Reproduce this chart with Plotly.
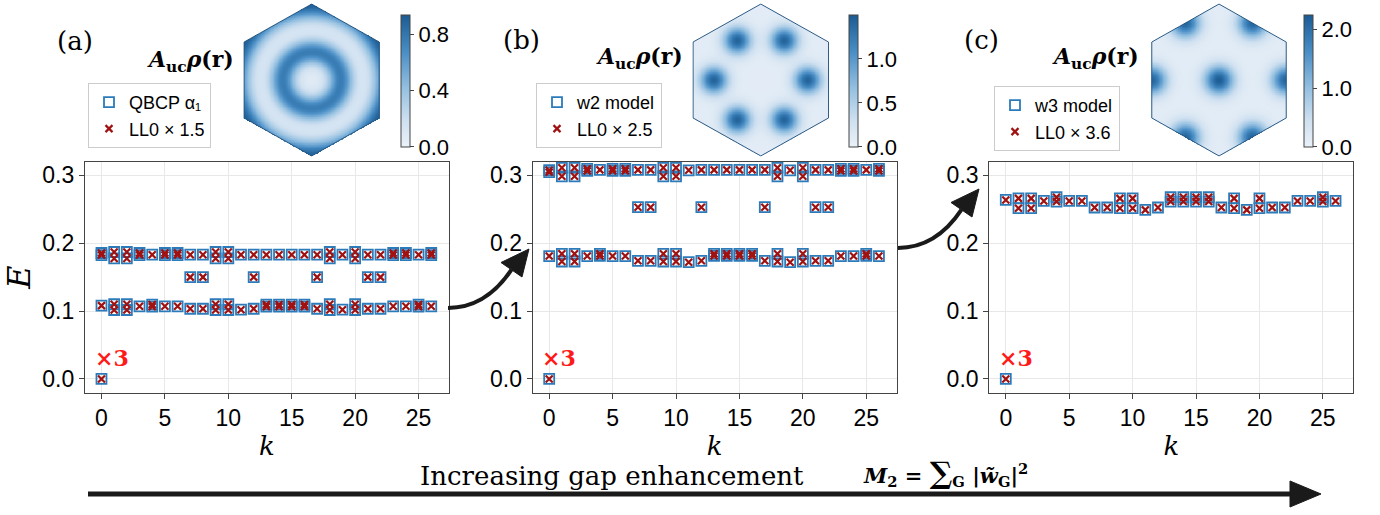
import numpy as np
import plotly.graph_objects as go

W, H = 1380, 515
S3 = np.sqrt(3.0)

# ---------------- spectra: many-body energies E at each momentum index k ----------------
K = list(range(27))

# (a) QBCP alpha_1 vs LL0 x 1.5
A_GROUND_K = [0]
A_GROUND_E = [0.0]
A_LOW_1 = [0.108, 0.110, 0.110, 0.107, 0.1095, 0.107, 0.107, 0.1034, 0.1034, 0.110,
           0.110, 0.102, 0.1034, 0.1095, 0.1095, 0.1095, 0.1095, 0.1034, 0.110, 0.102,
           0.110, 0.1034, 0.1034, 0.107, 0.107, 0.1095, 0.107]
A_LOW_2 = [None, 0.1015, 0.1015, None, 0.1065, None, None, None, None, 0.1015,
           0.1015, None, None, 0.1065, 0.1065, 0.1065, 0.1065, None, 0.1015, None,
           0.1015, None, None, None, None, 0.1065, None]
A_MID_K = [7, 8, 12, 17, 21, 22]
A_MID_E = [0.150, 0.150, 0.150, 0.150, 0.150, 0.150]
A_UP_1 = [0.1855, 0.187, 0.187, 0.1855, 0.183, 0.1855, 0.1855, 0.183, 0.183, 0.187,
          0.187, 0.183, 0.183, 0.183, 0.183, 0.183, 0.183, 0.183, 0.187, 0.183,
          0.187, 0.183, 0.183, 0.1855, 0.1855, 0.183, 0.1855]
A_UP_2 = [0.1825, 0.1775, 0.1775, 0.1825, None, 0.1825, 0.1825, None, None, 0.1775,
          0.1775, None, None, None, None, None, None, None, 0.1775, None,
          0.1775, None, None, 0.1825, 0.1825, None, 0.1825]

# (b) w2 model vs LL0 x 2.5
B_GROUND_K = [0]
B_GROUND_E = [0.0]
B_LOW_1 = [0.181, 0.1843, 0.1843, 0.181, 0.1843, 0.181, 0.181, 0.174, 0.174, 0.1843,
           0.1843, 0.172, 0.174, 0.1843, 0.1843, 0.1843, 0.1843, 0.174, 0.1843, 0.172,
           0.1843, 0.174, 0.174, 0.181, 0.181, 0.1843, 0.181]
B_LOW_2 = [None, 0.173, 0.173, None, 0.1813, None, None, None, None, 0.173,
           0.173, None, None, 0.1813, 0.1813, 0.1813, 0.1813, None, 0.173, None,
           0.173, None, None, None, None, 0.1813, None]
B_MID_K = [7, 8, 12, 17, 21, 22]
B_MID_E = [0.253, 0.253, 0.253, 0.253, 0.253, 0.253]
B_UP_1 = [0.3075, 0.311, 0.311, 0.3095, 0.308, 0.3095, 0.3095, 0.308, 0.308, 0.311,
          0.311, 0.3073, 0.308, 0.308, 0.308, 0.308, 0.308, 0.308, 0.311, 0.3073,
          0.311, 0.308, 0.308, 0.3095, 0.3095, 0.308, 0.3095]
B_UP_2 = [0.3045, 0.2985, 0.2985, 0.3065, None, 0.3065, 0.3065, None, None, 0.2985,
          0.2985, None, None, None, None, None, None, None, 0.2985, None,
          0.2985, None, None, 0.3065, 0.3065, None, 0.3065]

# (c) w3 model vs LL0 x 3.6
C_GROUND_K = [0]
C_GROUND_E = [0.0]
C_BAND_1 = [0.2637, 0.266, 0.266, 0.2622, 0.2676, 0.2622, 0.2622, 0.2525, 0.2525, 0.266,
            0.266, 0.249, 0.2525, 0.2676, 0.2676, 0.2676, 0.2676, 0.2525, 0.266, 0.249,
            0.266, 0.2525, 0.2525, 0.2622, 0.2622, 0.2676, 0.2622]
C_BAND_2 = [None, 0.2515, 0.2515, None, 0.2613, None, None, None, None, 0.2515,
            0.2515, None, None, 0.2613, 0.2613, 0.2613, 0.2613, None, 0.2515, None,
            0.2515, None, None, None, None, 0.2613, None]

X_TICKS = [0, 5, 10, 15, 20, 25]
Y_TICKS = [0.0, 0.1, 0.2, 0.3]

MODEL_NAMES = ["QBCP α₁", "w2 model", "w3 model"]
LL0_NAMES = ["LL0 × 1.5", "LL0 × 2.5", "LL0 × 3.6"]
PANEL_TAGS = ["(a)", "(b)", "(c)"]

# ---------------- unit-cell densities A_uc rho(r) on the hexagonal cell ----------------
# (a) ring around the cell centre plus an outer band peaking at the corners
A_RHO_BASE = 0.07
A_RING = [0.37, 0.115, 0.70]     # radius, width, amplitude
A_OUTER = [1.00, 0.14, 0.85]     # radius, width, amplitude
A_CMAX = 0.94
A_CBAR_TICKS = [0.0, 0.4, 0.8]
# (b) six lobes pointing at the edge midpoints
B_RHO_BASE = 0.08
B_LOBE_ANGLES = [0, 60, 120, 180, 240, 300]
B_LOBE = [0.60, 0.125, 1.35]     # radius, width, amplitude
B_CMAX = 1.5
B_CBAR_TICKS = [0.0, 0.5, 1.0]
# (c) central peak plus peaks sitting on the edge midpoints
C_RHO_BASE = 0.12
C_CENTER = [0.135, 2.10]         # width, amplitude
C_EDGE_ANGLES = [0, 60, 120, 180, 240, 300]
C_EDGE = [S3 / 2, 0.135, 2.0]    # radius, width, amplitude
C_CMAX = 2.25
C_CBAR_TICKS = [0.0, 1.0, 2.0]

BLUES = [[0.0, "#eaf1f8"], [0.2, "#cfe0f0"], [0.45, "#93bfe0"],
         [0.72, "#4a8ec6"], [1.0, "#1b5b93"]]

SANS = "Liberation Sans, Arial, sans-serif"
SERIF = "DejaVu Serif, serif"
SQ_BLUE = "#2b7bbb"
X_RED = "#a01212"


def px(x):
    return x / W


def py(y):
    return 1 - y / H


def hex_grid(n=241):
    xs = np.linspace(-S3 / 2, S3 / 2, n)
    ys = np.linspace(-1.0, 1.0, n)
    X, Y = np.meshgrid(xs, ys)
    inside = (0.5 * np.abs(X) + S3 / 2 * np.abs(Y)) <= S3 / 2 + 1e-9
    return xs, ys, X, Y, inside


def gauss(d2, w):
    return np.exp(-d2 / (2 * w * w))


def density_a(X, Y):
    r = np.hypot(X, Y)
    return (A_RHO_BASE + A_RING[2] * gauss((r - A_RING[0]) ** 2, A_RING[1])
            + A_OUTER[2] * gauss((r - A_OUTER[0]) ** 2, A_OUTER[1]))


def lobes(X, Y, angles, rad, w, amp):
    out = np.zeros_like(X)
    for a in angles:
        cx, cy = rad * np.cos(np.radians(a)), rad * np.sin(np.radians(a))
        out += amp * gauss((X - cx) ** 2 + (Y - cy) ** 2, w)
    return out


def density_b(X, Y):
    return B_RHO_BASE + lobes(X, Y, B_LOBE_ANGLES, *B_LOBE)


def density_c(X, Y):
    return (C_RHO_BASE + C_CENTER[1] * gauss(X ** 2 + Y ** 2, C_CENTER[0])
            + lobes(X, Y, C_EDGE_ANGLES, *C_EDGE))


def collect(*bands):
    ks, es = [], []
    for band in bands:
        for k, e in zip(K, band):
            if e is not None:
                ks.append(k)
                es.append(e)
    return ks, es


spectra = [
    (A_GROUND_K, A_GROUND_E, A_MID_K, A_MID_E, [A_LOW_1, A_LOW_2, A_UP_1, A_UP_2]),
    (B_GROUND_K, B_GROUND_E, B_MID_K, B_MID_E, [B_LOW_1, B_LOW_2, B_UP_1, B_UP_2]),
    (C_GROUND_K, C_GROUND_E, [], [], [C_BAND_1, C_BAND_2]),
]

# pixel layout of each panel: main plot box, hexagon inset, colorbar, legend, labels
MAIN_X = [(85, 449), (532.7, 896.7), (989.3, 1353.3)]
MAIN_Y = (161.7, 392.5)
HEX_X = [(243.3, 380.0), (692.3, 829.3), (1151.0, 1287.0)]
HEX_Y = (3.3, 156.7)
CBAR_X = [400.7, 849.3, 1304.3]
LEG_POS = [(88, 83), (536, 83), (994, 86)]
TAG_POS = [(75, 41), (521, 40), (981, 40)]
RHO_LABEL_POS = [(190, 61), (639, 58), (1095, 58)]

densities = [density_a, density_b, density_c]
cmaxes = [A_CMAX, B_CMAX, C_CMAX]
cticks = [A_CBAR_TICKS, B_CBAR_TICKS, C_CBAR_TICKS]

fig = go.Figure()
xs, ys, XG, YG, inside = hex_grid()
hex_ang = np.radians([90, 30, -30, -90, -150, 150, 90])
hex_vx = np.cos(hex_ang)
hex_vy = np.sin(hex_ang)

annotations = []


def note(x, y, text, font, xref="paper", yref="paper", xanchor="center"):
    annotations.append(dict(x=x, y=y, xref=xref, yref=yref, text=text,
                            showarrow=False, xanchor=xanchor, yanchor="middle",
                            font=font))


for i in range(3):
    n = i + 1
    xa = "x" if n == 1 else f"x{n}"
    ya = "y" if n == 1 else f"y{n}"
    leg = "legend" if n == 1 else f"legend{n}"
    gk, ge, mk, me, bands = spectra[i]
    bk, be = collect(*bands)
    ks = list(gk) + list(mk) + bk
    es = list(ge) + list(me) + be

    fig.add_trace(go.Scatter(
        x=ks, y=es, mode="markers", name=MODEL_NAMES[i], legend=leg,
        xaxis=xa, yaxis=ya,
        marker=dict(symbol="square-open", size=10, color=SQ_BLUE,
                    line=dict(width=1.8, color=SQ_BLUE))))
    # rescaled LL0 levels coincide with the model levels
    fig.add_trace(go.Scatter(
        x=ks, y=es, mode="markers", name=LL0_NAMES[i], legend=leg,
        xaxis=xa, yaxis=ya,
        marker=dict(symbol="x-thin", size=7, color=X_RED,
                    line=dict(width=2.2, color=X_RED))))

    # density inset
    hx = f"x{n + 3}"
    hy = f"y{n + 3}"
    z = densities[i](XG, YG)
    z = np.where(inside, z, np.nan)
    fig.add_trace(go.Heatmap(
        x=xs, y=ys, z=z, xaxis=hx, yaxis=hy, zmin=0, zmax=cmaxes[i],
        colorscale=BLUES, showscale=True, hoverinfo="skip",
        colorbar=dict(x=px(CBAR_X[i]), xanchor="left", xpad=0, ypad=0,
                      y=py(80.8), yanchor="middle", lenmode="pixels", len=132,
                      thickness=9, outlinecolor="#444", outlinewidth=1,
                      tickvals=cticks[i], tickformat=".1f", ticks="outside",
                      ticklen=4, tickcolor="#444",
                      tickfont=dict(family=SANS, size=22, color="black"))))
    fig.add_trace(go.Scatter(
        x=hex_vx, y=hex_vy, mode="lines",
        xaxis=hx, yaxis=hy, showlegend=False, hoverinfo="skip",
        line=dict(color="#2c5b85", width=1)))

    note(px(TAG_POS[i][0]), py(TAG_POS[i][1]), PANEL_TAGS[i],
         dict(family=SERIF, size=26, color="black"))
    note(px(RHO_LABEL_POS[i][0]), py(RHO_LABEL_POS[i][1]),
         "<b><i>A</i><sub>uc</sub><i>ρ</i>(r)</b>",
         dict(family=SERIF, size=22, color="black"))
    note(-0.7, 0.031, "<b>×3</b>", dict(family=SERIF, size=22, color="#ff1a1a"),
         xref=xa, yref=ya, xanchor="left")

axis_common = dict(showline=True, mirror=True, linecolor="#444", linewidth=1.2,
                   gridcolor="#e8e8e8", gridwidth=1, zeroline=False,
                   ticks="outside", ticklen=5, tickcolor="#444",
                   tickfont=dict(family=SANS, size=23, color="black"),
                   automargin=False)

layout = dict(width=W, height=H, margin=dict(l=0, r=0, t=0, b=0),
              plot_bgcolor="white", paper_bgcolor="white", showlegend=True)

for i in range(3):
    n = i + 1
    sx = "" if n == 1 else str(n)
    layout[f"xaxis{sx}"] = dict(
        axis_common, domain=[px(MAIN_X[i][0]), px(MAIN_X[i][1])],
        range=[-1.3, 27.4], tickvals=X_TICKS, anchor=f"y{sx}",
        title=dict(text="<i>k</i>", font=dict(family=SERIF, size=26, color="black"),
                   standoff=6))
    yd = dict(axis_common, domain=[py(MAIN_Y[1]), py(MAIN_Y[0])],
              range=[-0.02, 0.32], tickvals=Y_TICKS, tickformat=".1f",
              anchor=f"x{sx}")
    if n == 1:
        yd["title"] = dict(text="<i>E</i>",
                           font=dict(family=SERIF, size=32, color="black"),
                           standoff=6)
    layout[f"yaxis{sx}"] = yd

    hn = n + 3
    layout[f"xaxis{hn}"] = dict(domain=[px(HEX_X[i][0]), px(HEX_X[i][1])],
                                range=[-S3 / 2 - 0.01, S3 / 2 + 0.01], visible=False,
                                anchor=f"y{hn}")
    layout[f"yaxis{hn}"] = dict(domain=[py(HEX_Y[1]), py(HEX_Y[0])],
                                range=[-1.01, 1.01], visible=False, anchor=f"x{hn}")

    lname = "legend" if n == 1 else f"legend{n}"
    layout[lname] = dict(x=px(LEG_POS[i][0]), y=py(LEG_POS[i][1]), xanchor="left",
                         yanchor="top", bgcolor="white", bordercolor="#cccccc",
                         borderwidth=1, font=dict(family=SANS, size=18, color="black"),
                         itemwidth=30, tracegroupgap=0)

# bottom label and arrow
note(px(612), py(476), "Increasing gap enhancement",
     dict(family=SERIF, size=26, color="black"))
note(px(945), py(472),
     "<b><i>M</i><sub>2</sub> = <span style='font-size:30px'>∑</span>"
     "<sub>G</sub> |<i>w̃</i><sub>G</sub>|<sup>2</sup></b>",
     dict(family=SERIF, size=21, color="black"))

shapes = []


def pth(points, close=False):
    s = "M " + " L ".join(f"{px(a):.5f},{py(b):.5f}" for a, b in points)
    return s + (" Z" if close else "")


shapes.append(dict(type="line", xref="paper", yref="paper",
                   x0=px(88), y0=py(494), x1=px(1295), y1=py(494),
                   line=dict(color="#1a1a1a", width=5)))
shapes.append(dict(type="path", xref="paper", yref="paper",
                   path=pth([(1321, 494), (1290, 481), (1290, 507)], close=True),
                   fillcolor="#1a1a1a", line=dict(color="#1a1a1a", width=1)))

# curved arrows between panels
for sx0, sy0 in [(448, 308), (898, 248)]:
    c = (sx0 + 38, sy0)
    e = (sx0 + 63.5, sy0 - 38.3)
    curve = (f"M {px(sx0):.5f},{py(sy0):.5f} Q {px(c[0]):.5f},{py(c[1]):.5f} "
             f"{px(e[0]):.5f},{py(e[1]):.5f}")
    shapes.append(dict(type="path", xref="paper", yref="paper", path=curve,
                       line=dict(color="#1a1a1a", width=4)))
    head = [(sx0 + 81, sy0 - 59), (sx0 + 53, sy0 - 45.5), (sx0 + 74, sy0 - 31)]
    shapes.append(dict(type="path", xref="paper", yref="paper",
                       path=pth(head, close=True), fillcolor="#1a1a1a",
                       line=dict(color="#1a1a1a", width=1)))

layout["annotations"] = annotations
layout["shapes"] = shapes
fig.update_layout(**layout)
fig.write_html("out.html")
